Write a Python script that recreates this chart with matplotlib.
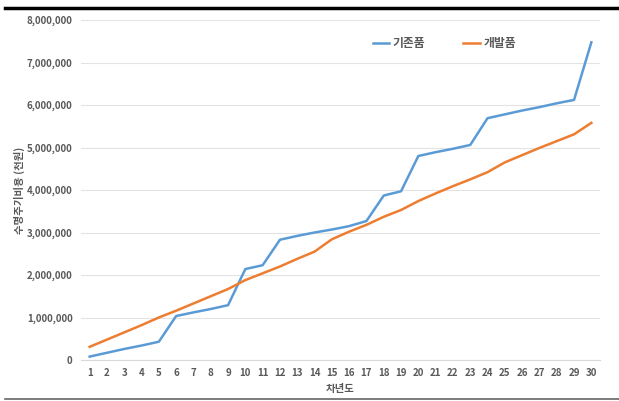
import matplotlib.pyplot as plt
from matplotlib.lines import Line2D
from matplotlib.ticker import FuncFormatter

plt.rcParams['font.family'] = ['Noto Sans CJK KR', 'DejaVu Sans']

years = list(range(1, 31))
existing = [80000, 170000, 260000, 340000, 430000,
            1035000, 1120000, 1200000, 1290000, 2140000,
            2230000, 2830000, 2920000, 3000000, 3070000,
            3150000, 3270000, 3870000, 3970000, 4800000,
            4890000, 4970000, 5060000, 5690000, 5780000,
            5870000, 5950000, 6040000, 6120000, 7475000]
developed = [310000, 480000, 650000, 820000, 1000000,
             1160000, 1330000, 1500000, 1670000, 1880000,
             2040000, 2200000, 2380000, 2550000, 2840000,
             3020000, 3180000, 3370000, 3530000, 3740000,
             3920000, 4090000, 4250000, 4420000, 4650000,
             4820000, 4990000, 5150000, 5310000, 5580000]

fig = plt.figure(figsize=(6.19, 4.01), dpi=100)
ax = fig.add_axes([81 / 619, 41 / 401, 519 / 619, 340 / 401])

ax.plot(years, existing, color='#5b9bd5', lw=1.8, label='기존품')
ax.plot(years, developed, color='#ed7d31', lw=1.8, label='개발품')

ax.set_xlim(0.5, 30.5)
ax.set_ylim(0, 8000000)
ax.set_xticks(years)
ax.set_yticks(range(0, 8000001, 1000000))
ax.yaxis.set_major_formatter(FuncFormatter(lambda v, p: f'{int(v):,}'))
ax.grid(axis='y', color='#e3e3e3', lw=0.8)
ax.set_axisbelow(True)
for s in ['top', 'right', 'left']:
    ax.spines[s].set_visible(False)
ax.spines['bottom'].set_color('#d9d9d9')
ax.tick_params(length=0, colors='#595959', labelsize=7, pad=6)
for lab in ax.get_xticklabels() + ax.get_yticklabels():
    lab.set_fontweight('bold')

ax.set_xlabel('차년도', fontsize=7.5, color='#595959', fontweight='bold', labelpad=4)
ax.set_ylabel('수명주기비용 (천원)', fontsize=7.5, color='#595959', fontweight='bold', labelpad=1)

leg = ax.legend(loc='upper center', bbox_to_anchor=(0.7, 0.98), ncol=2, frameon=False,
                fontsize=8.5, handlelength=1.4, handletextpad=0.3, columnspacing=3.2)
for t in leg.get_texts():
    t.set_color('#595959')
    t.set_fontweight('bold')

# page rules above and below the chart
fig.add_artist(Line2D([5 / 619, 1], [1 - 8 / 401, 1 - 8 / 401], color='black', lw=2.5))
fig.add_artist(Line2D([5 / 619, 1], [1 - 399 / 401, 1 - 399 / 401], color='#666666', lw=1.2))

fig.savefig('out.png', dpi=100)
